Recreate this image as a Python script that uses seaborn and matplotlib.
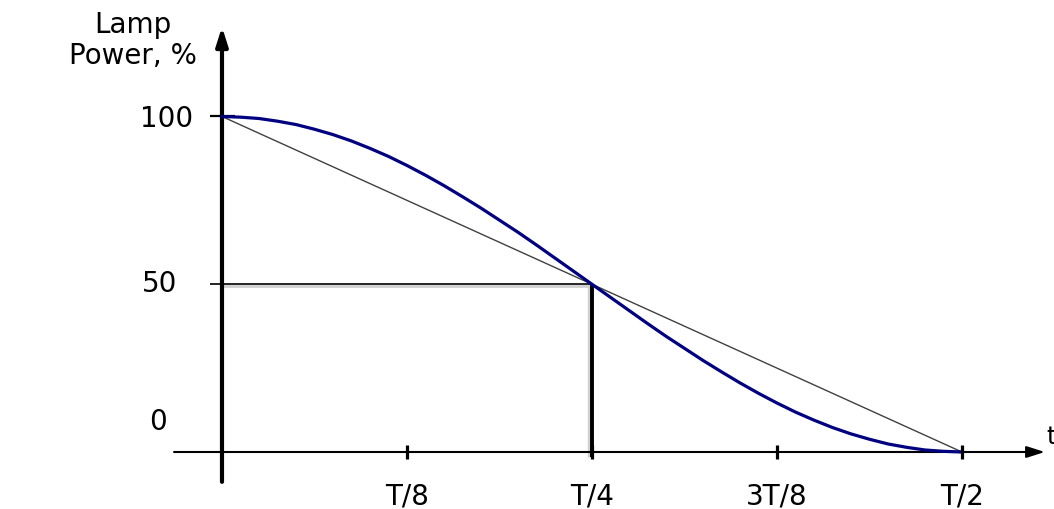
import numpy as np
import matplotlib
matplotlib.use("Agg")
import matplotlib.pyplot as plt
import seaborn as sns

# lamp power curve (t in units of T, power in %)
t_curve = [0, 0.0125, 0.025, 0.0375, 0.05, 0.0625, 0.075, 0.0875, 0.1, 0.1125,
           0.125, 0.1375, 0.15, 0.1625, 0.175, 0.1875, 0.2, 0.2125, 0.225, 0.2375,
           0.25, 0.2625, 0.275, 0.2875, 0.3, 0.3125, 0.325, 0.3375, 0.35, 0.3625,
           0.375, 0.3875, 0.4, 0.4125, 0.425, 0.4375, 0.45, 0.4625, 0.475, 0.4875, 0.5]
p_curve = [100, 99.8, 99.4, 98.6, 97.6, 96.2, 94.6, 92.7, 90.5, 88.1,
           85.4, 82.5, 79.4, 76.1, 72.7, 69.1, 65.5, 61.7, 57.8, 53.9,
           50, 46.1, 42.2, 38.3, 34.5, 30.9, 27.3, 23.9, 20.6, 17.5,
           14.6, 11.9, 9.5, 7.3, 5.4, 3.8, 2.4, 1.4, 0.6, 0.2, 0]

# straight reference line
t_line = [0, 0.5]
p_line = [100, 0]

# half power marker
t_half = 0.25
p_half = 50

x_ticks = [0.125, 0.25, 0.375, 0.5]
x_labels = ["T/8", "T/4", "3T/8", "T/2"]
y_ticks = [100, 50, 0]
y_labels = ["100", "50", "0"]

sns.set_style("white")
plt.rcParams['font.family'] = ['DejaVu Sans']
plt.rcParams['text.color'] = 'black'
FS = 20

fig = plt.figure(figsize=(10.54, 5.10), dpi=100)
ax = fig.add_axes([0, 0, 1, 1])
ax.set_xlim(-0.15, 0.5622)
ax.set_ylim(-16.99, 135.02)
ax.axis('off')

# axes with arrows
arrow = dict(arrowstyle='-|>,head_length=1.1,head_width=0.35', color='black',
             shrinkA=0, shrinkB=0, mutation_scale=10)
ax.annotate('', xy=(0, 126.7), xytext=(0, -8.9),
            arrowprops=dict(arrow, lw=3))
ax.annotate('', xy=(0.556, 0), xytext=(-0.0324, 0),
            arrowprops=dict(arrow, lw=1.5))

# x ticks
ax.plot(x_ticks, [0] * len(x_ticks), ls='none', marker='|', ms=10, mew=2.3,
        color='black', zorder=5)
# tick at 100
ax.plot([0], [100], ls='none', marker='_', ms=18, mew=1.6, color='black')

# 50% guide lines
ax.hlines(p_half - 0.5, 0, t_half, color='#d0d0d0', lw=2, zorder=1)
ax.hlines(p_half, -0.0081, t_half, color='black', lw=1.2, zorder=2)
ax.vlines(t_half - 0.002, -1.5, p_half, color='#d0d0d0', lw=2.5, zorder=1)
ax.vlines(t_half, -1.5, p_half, color='black', lw=2.8, zorder=2)

sns.lineplot(x=t_line, y=p_line, ax=ax, color='#404040', lw=1.0, zorder=3)
sns.lineplot(x=t_curve, y=p_curve, ax=ax, color='#000080', lw=2.3, zorder=4)

# tick labels
y_offsets = [(-21, -1), (-32, 1), (-40, 22)]
for v, lab, off in zip(y_ticks, y_labels, y_offsets):
    ax.annotate(lab, xy=(0, v), xytext=off, textcoords='offset points',
                ha='right', va='center', fontsize=FS, color='black')
for v, lab in zip(x_ticks, x_labels):
    ax.annotate(lab, xy=(v, 0), xytext=(0, -31), textcoords='offset points',
                ha='center', va='center', fontsize=FS, color='black')

ax.text(-0.060, 123, "Lamp\nPower, %", ha='center', va='center',
        multialignment='center', fontsize=FS, linespacing=1.15, color='black')
ax.text(0.5635, 4.8, "t", ha='right', va='center', fontsize=FS - 2, color='black')

fig.savefig("out.png", dpi=100)
